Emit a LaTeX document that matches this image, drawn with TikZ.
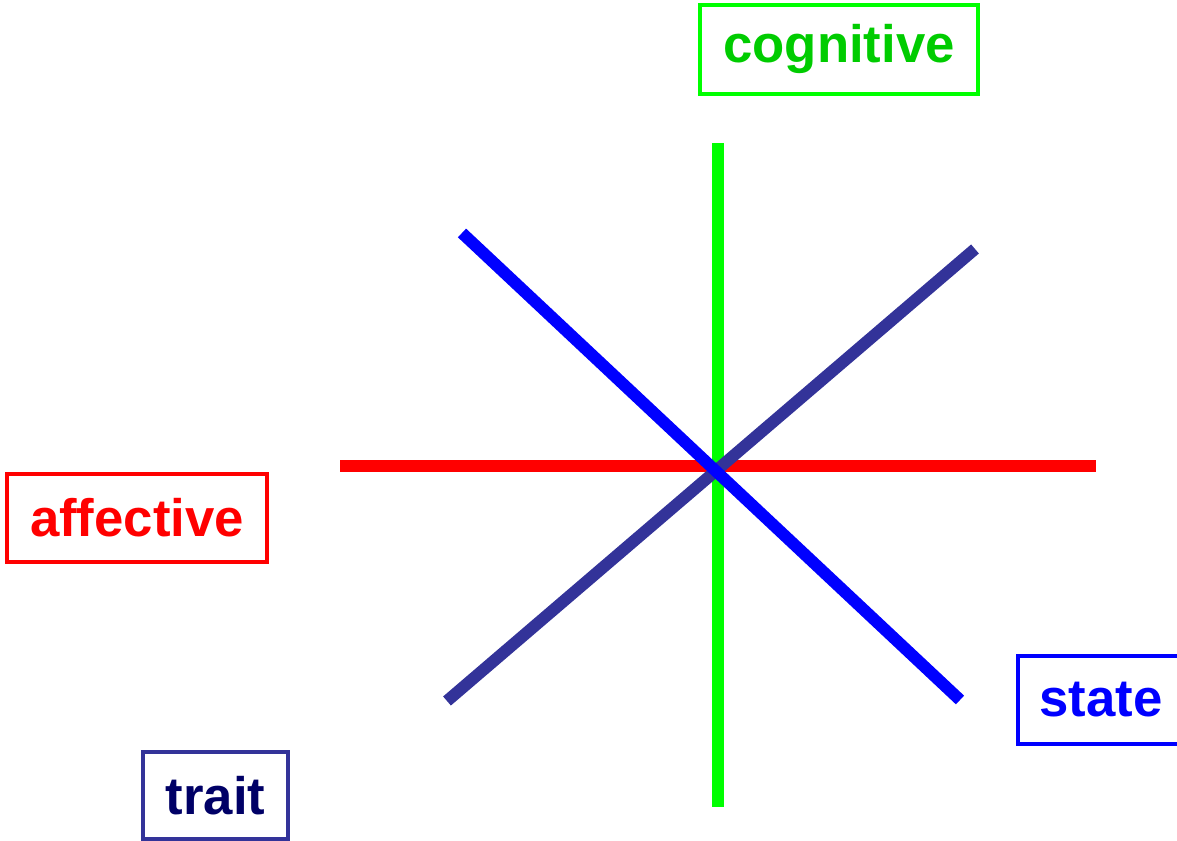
\documentclass[tikz,border=0pt]{standalone}
\usepackage{fontspec}
\setmainfont{Liberation Sans}
\usepackage{xcolor}
\usepackage{tikz}
\usetikzlibrary{positioning, calc}
\definecolor{axisgreen}{RGB}{0, 255, 0}
\definecolor{labelgreen}{RGB}{0, 204, 0}
\definecolor{axisred}{RGB}{255, 0, 0}
\definecolor{axisblue}{RGB}{0, 0, 255}
\definecolor{traitblue}{RGB}{51, 51, 153}
\definecolor{navytext}{RGB}{0, 0, 102}
\tikzstyle{label} = [draw, line width=0.9pt, inner sep=0pt, font=\fontsize{15}{18}\selectfont\bfseries]
\tikzstyle{axis} = [line width=3.4pt]

\begin{document}
\begin{tikzpicture}
    \useasboundingbox (0, 0) rectangle (11.77, 8.41);

    % Axis end points
    \coordinate (cogtop) at (7.18, 6.98);
    \coordinate (cogbot) at (7.18, 0.34);
    \coordinate (affleft) at (3.40, 3.75);
    \coordinate (affright) at (10.96, 3.75);
    \coordinate (statetop) at (4.62, 6.08);
    \coordinate (statebot) at (9.60, 1.41);
    \coordinate (traittop) at (9.75, 5.92);
    \coordinate (traitbot) at (4.47, 1.40);

    % Axes
    \draw[axis, axisred] (affleft) -- (affright);
    \draw[axis, axisgreen] (cogtop) -- (cogbot);
    \draw[axis, traitblue] (traittop) -- (traitbot);
    \draw[axis, axisblue] (statetop) -- (statebot);

    % Labels
    \node[label, draw=axisgreen, text=labelgreen, minimum width=2.78cm, minimum height=0.89cm] (cognitive) at (8.39, 7.915) {cognitive};
    \node[label, draw=axisred, text=axisred, minimum width=2.60cm, minimum height=0.88cm] (affective) at (1.37, 3.23) {affective};
    \node[label, draw=axisblue, text=axisblue, minimum width=1.66cm, minimum height=0.88cm] (state) at (11.01, 1.41) {state};
    \node[label, draw=traitblue, text=navytext, minimum width=1.45cm, minimum height=0.87cm] (trait) at (2.155, 0.455) {trait};
\end{tikzpicture}
\end{document}
